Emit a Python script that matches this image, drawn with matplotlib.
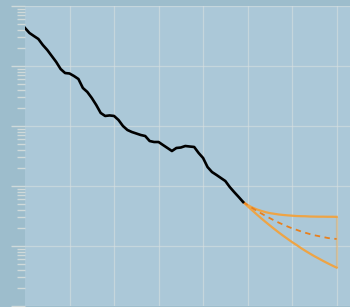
import numpy as np
import matplotlib
matplotlib.use('Agg')
import matplotlib.pyplot as plt

# Dados observados (escala log)
x_obs = np.round(np.arange(50) * 0.1, 1)
y_obs = [0.43, 0.355, 0.316, 0.282, 0.224, 0.185, 0.147, 0.117, 0.0891, 0.0764,
         0.075, 0.0681, 0.0607, 0.043, 0.0369, 0.0293, 0.0224, 0.0165, 0.0147, 0.015,
         0.0147, 0.0126, 0.01, 0.00858, 0.00794, 0.0075, 0.00708, 0.00681, 0.00562, 0.00541,
         0.00541, 0.00482, 0.0043, 0.00383, 0.0043, 0.00438, 0.00464, 0.00455, 0.00447, 0.00355,
         0.00293, 0.00207, 0.00171, 0.00153, 0.00136, 0.00121, 0.00096, 0.00079, 0.000656, 0.000541]

# Projeção
x_proj = np.round(4.9 + np.arange(22) * 0.1, 1)
y_sup = [5.41e-4, 4.82e-4, 4.40e-4, 4.09e-4, 3.86e-4, 3.67e-4, 3.53e-4, 3.44e-4, 3.35e-4, 3.29e-4, 3.24e-4,
         3.20e-4, 3.16e-4, 3.14e-4, 3.13e-4, 3.10e-4, 3.09e-4, 3.08e-4, 3.08e-4, 3.07e-4, 3.07e-4, 3.06e-4]
y_med = [5.41e-4, 4.82e-4, 4.32e-4, 3.88e-4, 3.51e-4, 3.19e-4, 2.91e-4, 2.66e-4, 2.45e-4, 2.27e-4, 2.11e-4,
         1.97e-4, 1.86e-4, 1.75e-4, 1.66e-4, 1.58e-4, 1.51e-4, 1.46e-4, 1.41e-4, 1.36e-4, 1.33e-4, 1.31e-4]
y_inf = [5.41e-4, 4.61e-4, 3.95e-4, 3.39e-4, 2.92e-4, 2.53e-4, 2.20e-4, 1.92e-4, 1.68e-4, 1.48e-4, 1.31e-4,
         1.16e-4, 1.04e-4, 9.23e-5, 8.28e-5, 7.47e-5, 6.76e-5, 6.17e-5, 5.62e-5, 5.15e-5, 4.73e-5, 4.36e-5]

fig = plt.figure(figsize=(3.5, 3.07), dpi=100, facecolor='#9dbdcc')
ax = fig.add_axes([25 / 350, 1 / 307, 1 - 25 / 350, 300 / 307])
ax.set_facecolor('#abc8d8')

ax.plot(x_obs, y_obs, color='black', lw=1.9, zorder=4)
ax.plot(x_proj, y_sup, color='#eea445', lw=1.6, zorder=3)
ax.plot(x_proj, y_inf, color='#eea445', lw=1.6, zorder=3)
ax.plot(x_proj, y_med, color='#e8801e', lw=1.3, ls=(0, (3, 2.5)), zorder=3)
ax.vlines(x_proj[-1], y_inf[-1], y_sup[-1], color='#eea445', alpha=0.4, lw=1.6)

ax.set_yscale('log')
ax.set_ylim(1e-5, 1)
ax.set_xlim(0, 7.3)
ax.set_xticks(range(1, 8))
ax.grid(True, which='major', color='#d8e0e0', alpha=0.6, lw=0.9)

for s in ax.spines.values():
    s.set_visible(False)

ax.tick_params(axis='x', length=0, labelbottom=False)
ax.tick_params(axis='y', which='major', length=10, width=1, color='#d0dada', labelleft=False)
ax.tick_params(axis='y', which='minor', length=6, width=1, color='#d0dada', labelleft=False)

plt.savefig('out.png', dpi=100, facecolor=fig.get_facecolor())
